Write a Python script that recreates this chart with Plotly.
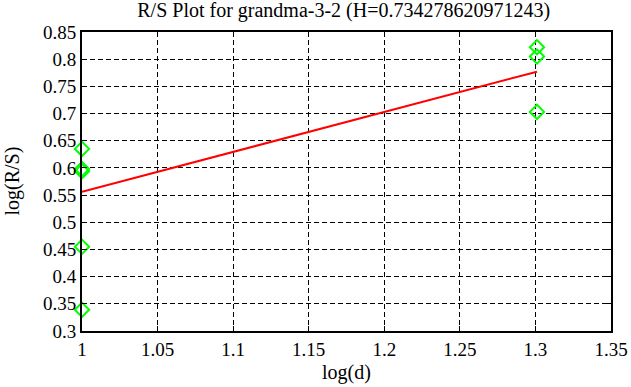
import plotly.graph_objects as go

x_points = [1.0, 1.0, 1.0, 1.0, 1.0, 1.30103, 1.30103, 1.30103]
y_points = [0.635, 0.598, 0.594, 0.455, 0.339, 0.822, 0.805, 0.703]
H = 0.734278620971243
intercept = 0.556
fit_x = [1.0, 1.30103]
fit_y = [intercept + H * (v - 1.0) for v in fit_x]

x_ticks = [1, 1.05, 1.1, 1.15, 1.2, 1.25, 1.3, 1.35]
x_tick_labels = ["1", "1.05", "1.1", "1.15", "1.2", "1.25", "1.3", "1.35"]
y_ticks = [0.3, 0.35, 0.4, 0.45, 0.5, 0.55, 0.6, 0.65, 0.7, 0.75, 0.8, 0.85]
y_tick_labels = ["0.3", "0.35", "0.4", "0.45", "0.5", "0.55", "0.6", "0.65", "0.7", "0.75", "0.8", "0.85"]

font = "Liberation Serif"
FS_TICK = 19
FS_TITLE = 20

fig = go.Figure()
fig.add_trace(go.Scatter(x=x_points, y=y_points, mode="markers",
                         marker=dict(symbol="diamond-open", size=11, color="#00ff00",
                                     line=dict(width=2, color="#00ff00")),
                         showlegend=False, cliponaxis=False))
fig.add_trace(go.Scatter(x=fit_x, y=fit_y, mode="lines",
                         line=dict(color="#ff0000", width=2), showlegend=False))

axis_common = dict(showline=True, linecolor="black", linewidth=2, mirror="ticks",
                   ticks="inside", ticklen=5, tickcolor="black", tickwidth=1,
                   showgrid=True, gridcolor="black", gridwidth=1, griddash="5px,3px",
                   zeroline=False, automargin=False,
                   tickfont=dict(family=font, size=FS_TICK, color="black"))

fig.update_xaxes(range=[1, 1.35], tickvals=x_ticks, ticktext=x_tick_labels, **axis_common)
fig.update_yaxes(range=[0.3, 0.85], tickvals=y_ticks, ticktext=y_tick_labels, **axis_common)

fig.update_layout(width=631, height=387, margin=dict(l=82, r=20, t=32, b=56),
                  paper_bgcolor="white", plot_bgcolor="white",
                  title=dict(text="R/S Plot for grandma-3-2 (H=0.734278620971243)",
                             xref="container", x=343.7 / 631, xanchor="center",
                             yref="container", y=1 - 3 / 387, yanchor="top",
                             pad=dict(t=0, b=0, l=0, r=0),
                             font=dict(family=font, size=FS_TITLE, color="black")))

fig.add_annotation(text="log(d)", xref="paper", x=0.5, xanchor="center",
                   yref="paper", y=-55 / 299, yanchor="bottom", showarrow=False,
                   font=dict(family=font, size=FS_TITLE, color="black"))
fig.add_annotation(text="log(R/S)", xref="paper", x=-70 / 529, xanchor="center",
                   yref="paper", y=0.5, yanchor="middle", textangle=-90, showarrow=False,
                   font=dict(family=font, size=FS_TITLE, color="black"))

fig.write_html("out.html", config={"displayModeBar": False},
               post_script="document.body.style.margin='0';document.body.style.padding='0';")
